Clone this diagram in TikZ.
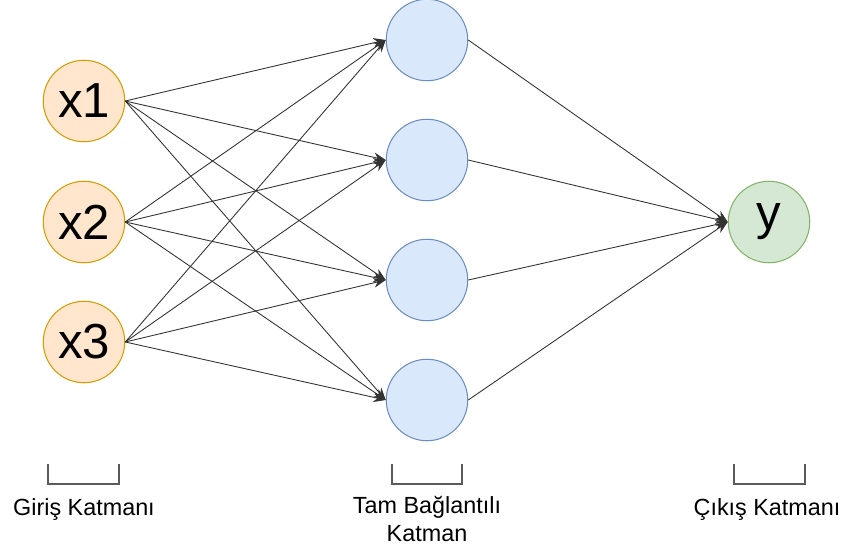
\documentclass[tikz,border=0pt]{standalone}
\usepackage{fontspec}
\setmainfont{Liberation Sans}
\usepackage{tikz}
\usetikzlibrary{arrows.meta,shapes,positioning}
\definecolor{inputfill}{RGB}{255, 230, 204}
\definecolor{inputline}{RGB}{215, 155, 0}
\definecolor{hiddenfill}{RGB}{218, 232, 252}
\definecolor{hiddenline}{RGB}{108, 142, 191}
\definecolor{outputfill}{RGB}{213, 232, 212}
\definecolor{outputline}{RGB}{130, 179, 102}
\definecolor{bracketgray}{RGB}{90, 90, 90}

\begin{document}
\begin{tikzpicture}[x=0.02cm, y=-0.02cm,
    neuron/.style={circle, minimum size=1.63cm, inner sep=0pt, line width=0.6pt,
      font=\fontsize{28}{32}\selectfont},
    innode/.style={neuron, fill=inputfill, draw=inputline},
    hidnode/.style={neuron, fill=hiddenfill, draw=hiddenline},
    outnode/.style={neuron, fill=outputfill, draw=outputline},
    conn/.style={-{Stealth[length=7pt, width=5.5pt]}, line width=0.5pt, black!80},
    bracket/.style={draw=bracketgray, line width=0.6pt},
    layerlabel/.style={font=\fontsize{13.3}{16}\selectfont, align=center}]
    \useasboundingbox (0,0) rectangle (848,551);

    % Input layer
    \node[innode] (x1) at (84,101) {x1};
    \node[innode] (x2) at (84,222) {x2};
    \node[innode] (x3) at (84,342) {x3};

    % Fully connected layer
    \node[hidnode] (h1) at (427,40) {};
    \node[hidnode] (h2) at (427,160) {};
    \node[hidnode] (h3) at (427,280) {};
    \node[hidnode] (h4) at (427,400) {};

    % Output layer
    \node[outnode] (y) at (769,222) {y};

    % Connections input -> hidden
    \draw[conn] (x1.east) -- (h1.west);
    \draw[conn] (x1.east) -- (h2.west);
    \draw[conn] (x1.east) -- (h3.west);
    \draw[conn] (x1.east) -- (h4.west);
    \draw[conn] (x2.east) -- (h1.west);
    \draw[conn] (x2.east) -- (h2.west);
    \draw[conn] (x2.east) -- (h3.west);
    \draw[conn] (x2.east) -- (h4.west);
    \draw[conn] (x3.east) -- (h1.west);
    \draw[conn] (x3.east) -- (h2.west);
    \draw[conn] (x3.east) -- (h3.west);
    \draw[conn] (x3.east) -- (h4.west);

    % Connections hidden -> output
    \draw[conn] (h1.east) -- (y.west);
    \draw[conn] (h2.east) -- (y.west);
    \draw[conn] (h3.east) -- (y.west);
    \draw[conn] (h4.east) -- (y.west);

    % Brackets
    \draw[bracket] (48,464) -- (48,484) -- (119,484) -- (119,464);
    \draw[bracket] (392,464) -- (392,484) -- (462,484) -- (462,464);
    \draw[bracket] (734,464) -- (734,484) -- (805,484) -- (805,464);

    % Labels
    \node[layerlabel] (inlabel) at (84,510) {Giriş Katmanı};
    \node[layerlabel] (hidlabel) at (427,519) {Tam Bağlantılı\\Katman};
    \node[layerlabel] (outlabel) at (767,510) {Çıkış Katmanı};
\end{tikzpicture}
\end{document}
